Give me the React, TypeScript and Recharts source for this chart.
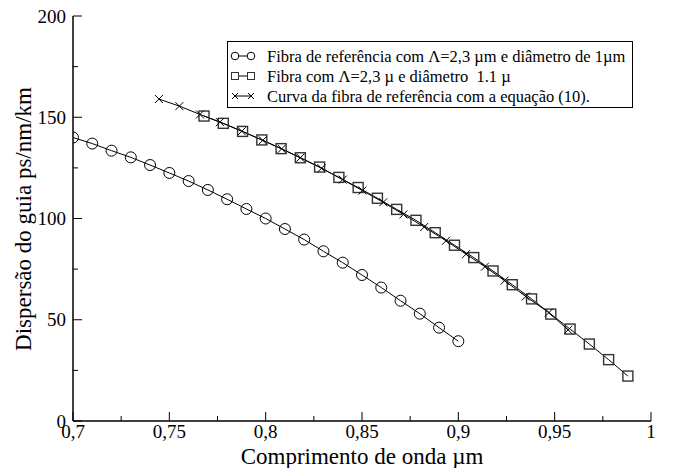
import React from 'react';
import { LineChart, Line, XAxis, YAxis } from 'recharts';

// Fibra de referência (círculos)
const refX = [0.7, 0.71, 0.72, 0.73, 0.74, 0.75, 0.76, 0.77, 0.78, 0.79, 0.8, 0.81, 0.82, 0.83, 0.84, 0.85, 0.86, 0.87, 0.88, 0.89, 0.9];
const refY = [140, 137, 133.5, 130.2, 126.4, 122.5, 118.5, 114.1, 109.5, 104.7, 100, 94.8, 89.6, 83.8, 78.2, 72.1, 65.9, 59.4, 53, 46.1, 39.4];

// Fibra com diâmetro 1.1 (quadrados)
const fibX = [0.768, 0.778, 0.788, 0.798, 0.808, 0.818, 0.828, 0.838, 0.848, 0.858, 0.868, 0.878, 0.888, 0.898, 0.908, 0.918, 0.928, 0.938, 0.948, 0.958, 0.968, 0.978, 0.988];
const fibY = [150.6, 147, 143, 138.8, 134.5, 130, 125.4, 120.3, 115.3, 110, 104.5, 99.1, 93, 86.8, 80.7, 74.1, 67.3, 60.3, 52.8, 45.4, 38, 30.3, 22.2];

// Curva pela equação (10) (cruzes)
const eqX = [0.7446, 0.7552, 0.7659, 0.7763, 0.7876, 0.7985, 0.8083, 0.818, 0.829, 0.84, 0.8502, 0.861, 0.8715, 0.8823, 0.8936, 0.904, 0.9138, 0.924, 0.935, 0.947, 0.957];
const eqY = [159, 155.5, 151.4, 147.6, 143.1, 138.6, 134.4, 130, 124.8, 119.2, 113.8, 108, 102, 95.8, 89, 82.4, 76.2, 69.3, 61.5, 53.5, 45];

const xTicks = [0.7, 0.725, 0.75, 0.775, 0.8, 0.825, 0.85, 0.875, 0.9, 0.925, 0.95, 0.975, 1];
const yTicks = [0, 25, 50, 75, 100, 125, 150, 175, 200];

const legendLabels = [
  'Fibra de referência com Λ=2,3 µm e diâmetro de 1µm',
  'Fibra com Λ=2,3 µ e diâmetro  1.1 µ',
  'Curva da fibra de referência com a equação (10).',
];

const FONT = '"Liberation Serif", "Times New Roman", serif';

const toRows = (xs: number[], ys: number[]) => xs.map((x, i) => ({ x, y: ys[i] }));
const refData = toRows(refX, refY);
const fibData = toRows(fibX, fibY);
const eqData = toRows(eqX, eqY);

const isMajorX = (v: number) => Math.abs(v * 20 - Math.round(v * 20)) < 1e-6;
const isMajorY = (v: number) => v % 50 === 0;
const fmtX = (v: number) => String(v).replace('.', ',');

const BottomTick = ({ x, y, payload }: any) => {
  const major = isMajorX(payload.value);
  return (
    <g>
      <line x1={x} y1={y} x2={x} y2={y - (major ? 9 : 5)} stroke="#000" />
      {major && (
        <text x={x} y={y + 17} textAnchor="middle" fontSize={19} fontFamily={FONT} fill="#000">
          {fmtX(payload.value)}
        </text>
      )}
    </g>
  );
};

const TopTick = ({ x, y, payload }: any) => (
  <line x1={x} y1={y} x2={x} y2={y + (isMajorX(payload.value) ? 9 : 5)} stroke="#000" />
);

const LeftTick = ({ x, y, payload }: any) => {
  const major = isMajorY(payload.value);
  return (
    <g>
      <line x1={x} y1={y} x2={x + (major ? 9 : 5)} y2={y} stroke="#000" />
      {major && (
        <text x={x - 7} y={y + 6.5} textAnchor="end" fontSize={19} fontFamily={FONT} fill="#000">
          {payload.value}
        </text>
      )}
    </g>
  );
};

const RightTick = ({ x, y, payload }: any) => (
  <line x1={x} y1={y} x2={x - (isMajorY(payload.value) ? 9 : 5)} y2={y} stroke="#000" />
);

const CircleDot = (p: any) => (
  <circle key={`c-${p.index}`} cx={p.cx} cy={p.cy} r={5.5} fill="none" stroke="#000" strokeWidth={1} />
);
const SquareDot = (p: any) => (
  <rect key={`s-${p.index}`} x={p.cx - 5} y={p.cy - 5} width={10} height={10} fill="none" stroke="#333" strokeWidth={1.4} />
);
const CrossDot = (p: any) => (
  <path key={`x-${p.index}`} d={`M${p.cx - 4},${p.cy - 4}L${p.cx + 4},${p.cy + 4}M${p.cx - 4},${p.cy + 4}L${p.cx + 4},${p.cy - 4}`} stroke="#000" strokeWidth={1} />
);

const LegendBox = () => {
  const rows = [15, 35, 55];
  return (
    <div style={{ position: 'absolute', left: 227, top: 41, width: 406, height: 67, border: '1px solid #000', boxSizing: 'border-box', background: '#fff' }}>
      <svg width={404} height={65} style={{ display: 'block' }}>
        {rows.map((cy, i) => (
          <g key={i}>
            <line x1={7} y1={cy - 1} x2={23} y2={cy - 1} stroke="#000" />
            {i === 0 && (
              <>
                <circle cx={7} cy={cy - 1} r={3.8} fill="#fff" stroke="#000" />
                <circle cx={23} cy={cy - 1} r={3.8} fill="#fff" stroke="#000" />
              </>
            )}
            {i === 1 && (
              <>
                <rect x={3.5} y={cy - 4.5} width={7} height={7} fill="#fff" stroke="#333" />
                <rect x={19.5} y={cy - 4.5} width={7} height={7} fill="#fff" stroke="#333" />
              </>
            )}
            {i === 2 && (
              <path d={`M4,${cy - 4}L10,${cy + 2}M4,${cy + 2}L10,${cy - 4}M20,${cy - 4}L26,${cy + 2}M20,${cy + 2}L26,${cy - 4}`} stroke="#000" />
            )}
            <text x={39} y={cy + 5} fontSize={16.5} fontFamily={FONT} fill="#000" style={{ whiteSpace: 'pre' }}>
              {legendLabels[i]}
            </text>
          </g>
        ))}
      </svg>
    </div>
  );
};

export default function App() {
  return (
    <div style={{ position: 'absolute', left: 0, top: 0, width: 673, height: 468, background: '#fff' }}>
      <LineChart width={673} height={468} margin={{ top: 16, right: 22, left: 0, bottom: 0 }}>
        <XAxis
          dataKey="x"
          type="number"
          domain={[0.7, 1]}
          ticks={xTicks}
          interval={0}
          allowDataOverflow
          height={47}
          tickSize={0}
          tickMargin={0}
          tickLine={false}
          tick={<BottomTick />}
          axisLine={{ stroke: '#000', strokeWidth: 1.5 }}
          label={{ value: 'Comprimento de onda µm', position: 'insideBottom', offset: 4, fontSize: 23, fontFamily: FONT, fill: '#000' }}
        />
        <XAxis
          xAxisId="top"
          orientation="top"
          dataKey="x"
          type="number"
          domain={[0.7, 1]}
          ticks={xTicks}
          interval={0}
          allowDataOverflow
          height={0}
          tickSize={0}
          tickMargin={0}
          tickLine={false}
          tick={<TopTick />}
          axisLine={{ stroke: '#000', strokeWidth: 1.5 }}
        />
        <YAxis
          type="number"
          domain={[0, 200]}
          ticks={yTicks}
          interval={0}
          allowDataOverflow
          width={73}
          tickSize={0}
          tickMargin={0}
          tickLine={false}
          tick={<LeftTick />}
          axisLine={{ stroke: '#000', strokeWidth: 1.5 }}
          label={{
            content: () => (
              <text x={0} y={0} transform="translate(31,219) rotate(-90)" textAnchor="middle" fontSize={23} fontFamily={FONT} fill="#000">
                Dispersão do guia ps/nm/km
              </text>
            ),
          }}
        />
        <YAxis
          yAxisId="right"
          orientation="right"
          type="number"
          domain={[0, 200]}
          ticks={yTicks}
          interval={0}
          allowDataOverflow
          width={0}
          tickSize={0}
          tickMargin={0}
          tickLine={false}
          tick={<RightTick />}
          axisLine={{ stroke: '#000', strokeWidth: 1.5 }}
        />
        <Line data={refData} dataKey="y" type="linear" stroke="#000" strokeWidth={1} dot={CircleDot} activeDot={false} isAnimationActive={false} />
        <Line data={fibData} dataKey="y" type="linear" stroke="#000" strokeWidth={1} dot={SquareDot} activeDot={false} isAnimationActive={false} />
        <Line data={eqData} dataKey="y" type="linear" stroke="#000" strokeWidth={1} dot={CrossDot} activeDot={false} isAnimationActive={false} />
      </LineChart>
      <LegendBox />
    </div>
  );
}
